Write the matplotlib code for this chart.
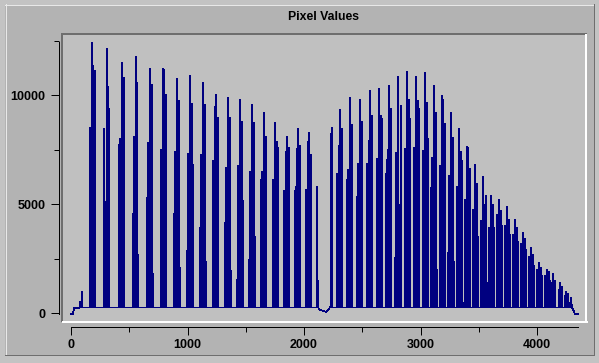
import matplotlib
matplotlib.use("Agg")
import matplotlib.pyplot as plt
from matplotlib.lines import Line2D
from matplotlib.patches import Rectangle
from matplotlib.ticker import MultipleLocator

# ---------------- data ----------------
title = "Pixel Values"
baseline = 250
col_step = 8.584  # spacing of neighbouring samples inside a peak group (data units)

lead_x = [0, 17, 26, 60]
lead_y = [-50, -50, 230, 230]

cluster_x0 = [77, 163, 283, 412, 532, 652, 773, 884, 996, 1107, 1219, 1322, 1425,
              1528, 1631, 1734, 1828, 1923, 2017, 2112, 2223, 2283, 2369, 2455,
              2541, 2627, 2704, 2781, 2867, 2944, 3022, 3090, 3168, 3236, 3313,
              3382, 3451, 3519, 3588, 3657, 3725, 3794, 3863, 3931, 4000, 4069,
              4129, 4189, 4240, 4283]
cluster_h = [
    [530, 530, 980],
    [8500, 3280, 12420, 11360, 10410, 11130],
    [8460, 4000, 5120, 12140, 10410, 9380],
    [7730, 8000, 7450, 11480, 1620, 10800],
    [4550, 8100, 1000, 11780, 10590, 2670],
    [5290, 7830, 1750, 11200, 10000, 10500, 1800],
    [7500, 7040, 11220, 11160, 9000, 10030],
    [4550, 7420, 1300, 10760, 9000, 9750, 2100],
    [2850, 7310, 500, 10900, 2380, 9600, 6800],
    [3930, 7270, 600, 10580, 8000, 9570, 2380],
    [6990, 5840, 9490, 10030, 5350, 8990],
    [4150, 6670, 1200, 9900, 1000, 8950, 1950],
    [1520, 6760, 3500, 9800, 4000, 8800, 5150],
    [2440, 6500, 4000, 9570, 2300, 8760, 3510],
    [6120, 6500, 5120, 9210, 1100, 8110],
    [6120, 900, 8760, 5470, 7880, 7590],
    [5630, 5120, 7420, 8110, 3700, 7590],
    [5630, 5810, 7560, 8460, 5200, 7700],
    [5660, 5060, 7880, 8290, 4370, 7270],
    [5810, 1500],
    [300, 8230, 8500],
    [6420, 6250, 7680, 9340, 2670, 8460],
    [6120, 6580, 4280, 9900, 700, 8650],
    [5340, 6850, 5400, 9800, 800, 8800],
    [6850, 6800, 7910, 10210, 5400, 9060],
    [7080, 1500, 10300, 7500, 9060, 8900],
    [6400, 7040, 7500, 10440, 2100, 9380],
    [2540, 7370, 2700, 10830, 5000, 4000, 9520],
    [7540, 1980, 11100, 5200, 9800, 8920],
    [7600, 1150, 10830, 6850, 9750, 9380],
    [7450, 3820, 11050, 800, 9670, 8000],
    [5750, 7140, 2760, 10440, 2000, 9210, 2000],
    [6760, 4460, 9980, 9800, 6000, 8690],
    [2760, 6300, 1500, 9210, 500, 8060, 2370],
    [5810, 700, 8450, 4510, 7420, 6990, 500],
    [5200, 3770, 7620, 7600, 6220, 6620],
    [4740, 3360, 6810, 5900, 5930, 3500],
    [4230, 1200, 6250, 5000, 4970, 5380, 400, 1400],
    [3920, 500, 5400, 3360, 4990, 3920],
    [4500, 800, 5200, 3500, 4700, 4000],
    [4000, 600, 4900, 3000, 4300, 3600],
    [3600, 500, 4300, 2600, 3900, 3300],
    [3200, 500, 3700, 2300, 3400, 2900],
    [2600, 400, 3000, 1800, 2700, 2200],
    [2000, 400, 2300, 1500, 2100, 1700],
    [1700, 300, 2000, 1200, 1900, 1500],
    [1400, 1800, 1000, 1500],
    [1100, 1400, 800, 1200],
    [800, 1000, 600, 900],
    [500, 700, 400],
]

dip_x = [2135, 2160, 2190, 2210]
dip_y = [150, 100, 60, 150]

tail_x = [4300, 4318, 4326, 4352]
tail_y = [250, 70, -50, -50]

x_major = [0, 1000, 2000, 3000, 4000]
y_major = [0, 5000, 10000]

# ---------------- build the line ----------------
pts = list(zip(lead_x, lead_y)) + list(zip(dip_x, dip_y)) + list(zip(tail_x, tail_y))
for x0, hs in zip(cluster_x0, cluster_h):
    for i, h in enumerate(hs):
        xc = x0 + i * col_step
        pts += [(xc - 1, baseline), (xc, h), (xc + 1, baseline)]
pts.sort(key=lambda p: p[0])
xs = [p[0] for p in pts]
ys = [p[1] for p in pts]

# ---------------- figure ----------------
W, H = 599, 363
BG = "#b3b3b3"
PLOT_BG = "#c0c0c0"
plt.rcParams["font.family"] = ["Liberation Sans", "DejaVu Sans"]

fig = plt.figure(figsize=(W / 100, H / 100), dpi=100, facecolor="#c3c3c3")

def fx(px):
    return px / W

def fy(py):
    return 1 - py / H

# outer panel
fig.patches.append(Rectangle((fx(5), fy(355)), fx(589), 350 / H, transform=fig.transFigure,
                             facecolor=BG, edgecolor="none", zorder=-5))

def fline(x0, y0, x1, y1, color, lw=1):
    fig.add_artist(Line2D([fx(x0), fx(x1)], [fy(y0), fy(y1)], transform=fig.transFigure,
                          color=color, lw=lw * 0.72, antialiased=False, solid_capstyle="butt",
                          zorder=5))

fline(5, 4.5, 594, 4.5, "#e8e8e8")
fline(5.5, 4, 5.5, 355, "#e8e8e8")
fline(5, 354.5, 594, 354.5, "#6e6e6e")
fline(593.5, 4, 593.5, 355, "#6e6e6e")

# plot area
L, R, T, B = 63, 585, 35, 321
ax = fig.add_axes([fx(L), fy(B), (R - L) / W, (B - T) / H], facecolor=PLOT_BG, zorder=1)
ax.plot(xs, ys, color="#000080", lw=0.5, antialiased=False, solid_joinstyle="miter")

px_per_x = 466 / 4000
px_per_y = 218 / 10000
ax.set_xlim((L - 71) / px_per_x, (R - 71) / px_per_x)
ax.set_ylim((313 - B) / px_per_y, (313 - T) / px_per_y)

# sunken bevel around the plot area
fline(61, 34, 587, 34, "#6e6e6e", 2)
fline(62, 33, 62, 322, "#6e6e6e", 2)
fline(62, 322, 588, 322, "#ffffff", 2)
fline(586, 34, 586, 323, "#ffffff", 2)

for s in ["top", "right"]:
    ax.spines[s].set_visible(False)
ax.spines["left"].set_position(("outward", 4.5 * 0.72))
ax.spines["bottom"].set_position(("outward", 6 * 0.72))
ax.spines["left"].set_bounds(min(ys), max(ys))
ax.spines["bottom"].set_bounds(min(xs), max(xs))
for s in ["left", "bottom"]:
    ax.spines[s].set_linewidth(0.72)
    ax.spines[s].set_color("black")

ax.set_xticks(x_major)
ax.set_xticklabels([str(v) for v in x_major])
ax.set_yticks(y_major)
ax.set_yticklabels([str(v) for v in y_major])
ax.xaxis.set_minor_locator(MultipleLocator(500))
ax.yaxis.set_minor_locator(MultipleLocator(2500))
ax.tick_params(which="major", direction="out", length=5.8, width=0.72, color="black")
ax.tick_params(which="minor", direction="out", length=3.6, width=0.72, color="black")
ax.tick_params(axis="y", which="major", pad=3.6)
ax.tick_params(axis="x", which="major", pad=2.8)
for lab in ax.get_xticklabels() + ax.get_yticklabels():
    lab.set_fontweight("bold")
    lab.set_fontsize(9)

fig.text(fx(324), fy(17.5), title, ha="center", va="center", fontsize=8.8, fontweight="bold")

fig.savefig("out.png", dpi=100, facecolor=fig.get_facecolor())
